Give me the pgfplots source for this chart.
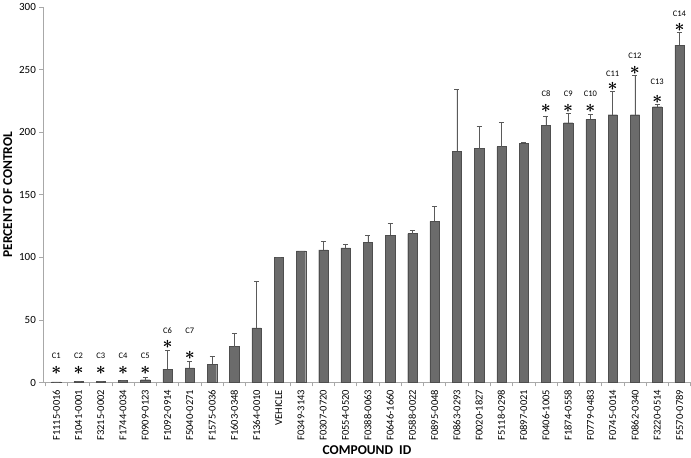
\documentclass[border=0pt]{standalone}
\usepackage{pgfplots}
\pgfplotsset{compat=1.18}
\usepackage{pgfplotstable}
\usepackage{fontspec}
\setmainfont{Carlito}
\definecolor{barfill}{HTML}{6B6B6B}
\definecolor{baredge}{HTML}{4E4E4E}
\definecolor{axgray}{HTML}{A8A8A8}
\definecolor{errgray}{HTML}{5A5A5A}
\pgfplotstableread{
x y e
0 0.5 0
1 0.7 0
2 0.7 0
3 1.8 0
4 2.2 1.8
5 10.7 15.3
6 11.7 4.8
7 14.4 6.1
8 28.7 10.6
9 43.6 37.0
10 100 0
11 105.1 0
12 105.9 6.6
13 107.5 3.2
14 112 5.8
15 117.8 9.2
16 118.9 2.4
17 128.7 12.0
18 184.6 49.5
19 186.8 17.8
20 188.4 19.1
21 191 0.8
22 205.4 7.5
23 207.5 7.8
24 210.1 4.3
25 213.9 18.9
26 213.9 31.4
27 220.3 1.6
28 269.5 9.8
}\datatable
\begin{document}
\begin{tikzpicture}
\begin{axis}[
  scale only axis, width=648pt, height=376pt,
  xmin=-0.58, xmax=28.5, ymin=0, ymax=300,
  axis x line=bottom, axis y line=left,
  axis line style={axgray, -, line width=0.8pt},
  ytick={0,50,...,300},
  xtick={0,...,28},
  xticklabels={F1115-0016,F1041-0001,F3215-0002,F1744-0034,F0909-0123,F1092-0914,F5040-0271,F1575-0036,F1603-0348,F1364-0010,VEHICLE,F0349-3143,F0307-0720,F0554-0520,F0388-0063,F0646-1660,F0588-0022,F0895-0048,F0863-0293,F0020-1827,F5118-0298,F0897-0021,F0406-1005,F1874-0558,F0779-0483,F0745-0014,F0862-0340,F3220-0514,F5570-0789},
  xticklabel style={rotate=90, anchor=east, font=\fontsize{10.5}{12}\selectfont},
  yticklabel style={font=\fontsize{11}{13}\selectfont},
  minor xtick={-0.5,0.5,...,28.5},
  major x tick style={draw=none},
  minor x tick style={axgray, line width=0.6pt},
  y tick style={axgray, line width=0.6pt},
  tick align=outside,
  major tick length=4pt, minor tick length=4pt,
  /pgf/number format/assume math mode=true,
  xlabel={COMPOUND\ \ ID}, ylabel={PERCENT OF CONTROL},
  xlabel style={font=\bfseries\fontsize{13.5}{15}\selectfont, yshift=2pt},
  ylabel style={font=\bfseries\fontsize{13.5}{15}\selectfont},
  clip=false,
]
\addplot[ybar, bar width=9.3pt, fill=barfill, draw=baredge, line width=0.4pt,
  error bars/.cd, y dir=plus, y explicit,
  error bar style={errgray, line width=0.7pt},
  error mark options={rotate=90, mark size=2.5pt, errgray, line width=0.7pt}]
  table[x=x, y=y, y error=e] {\datatable};
\addplot[draw=none, mark=none, nodes near coords, point meta=explicit symbolic,
  nodes near coords style={anchor=center, inner sep=0pt, font=\boldmath\fontsize{17}{17}\selectfont, black}]
  coordinates {(0,9.6)[$\ast$] (1,9.6)[$\ast$] (2,9.6)[$\ast$] (3,9.6)[$\ast$] (4,9.6)[$\ast$]
  (5,30.6)[$\ast$] (6,21.8)[$\ast$] (22,218.9)[$\ast$] (23,218.9)[$\ast$] (24,218.9)[$\ast$]
  (25,236.7)[$\ast$] (26,249.2)[$\ast$] (27,226)[$\ast$] (28,284)[$\ast$]};
\addplot[draw=none, mark=none, nodes near coords, point meta=explicit symbolic,
  nodes near coords style={anchor=center, inner sep=0pt, font=\fontsize{8.5}{9}\selectfont, black}]
  coordinates {(0,21.5)[C1] (1,21.5)[C2] (2,21.5)[C3] (3,21.5)[C4] (4,21.5)[C5]
  (5,41.5)[C6] (6,41.5)[C7] (22,230.5)[C8] (23,230.5)[C9] (24,230.5)[C10]
  (25,246.5)[C11] (26,261)[C12] (27,240)[C13] (28,294.5)[C14]};
\end{axis}
\end{tikzpicture}
\end{document}
